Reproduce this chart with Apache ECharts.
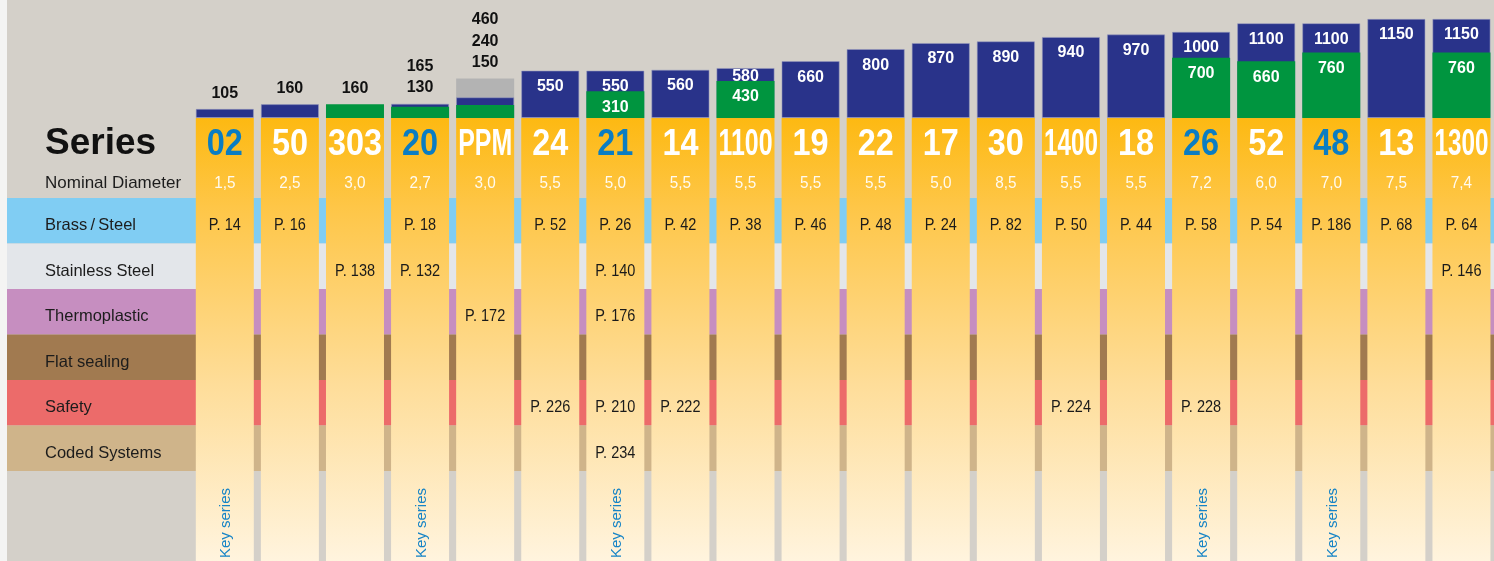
<!DOCTYPE html>
<html>
<head>
<meta charset="utf-8">
<script src="https://cdn.jsdelivr.net/npm/echarts@6/dist/echarts.min.js"></script>
<style>
  html, body { margin: 0; padding: 0; background: #d4d0c9; }
  #chart { width: 1494px; height: 561px; }
</style>
</head>
<body>
<div id="chart"></div>
<script>
// ---- data ----
const seriesNames = ['02', '50', '303', '20', 'PPM', '24', '21', '14', '1100', '19', '22', '17', '30', '1400', '18', '26', '52', '48', '13', '1300'];
const diameters = ['1,5', '2,5', '3,0', '2,7', '3,0', '5,5', '5,0', '5,5', '5,5', '5,5', '5,5', '5,0', '8,5', '5,5', '5,5', '7,2', '6,0', '7,0', '7,5', '7,4'];
const keySeries = ['02', '20', '21', '26', '48'];

const pressureBlue  = [105, 160, null, 165, 240, 550, 550, 560, 580, 660, 800, 870, 890, 940, 970, 1000, 1100, 1100, 1150, 1150];
const pressureGreen = [null, null, 160, 130, 150, null, 310, null, 430, null, null, null, null, null, null, 700, 660, 760, null, 760];
const pressureGray  = [null, null, null, null, 460, null, null, null, null, null, null, null, null, null, null, null, null, null, null, null];

const rowNames = ['Brass\u2009/\u2009Steel', 'Stainless Steel', 'Thermoplastic', 'Flat sealing', 'Safety', 'Coded Systems'];

const pagesBrassSteel    = ['P. 14', 'P. 16', null, 'P. 18', null, 'P. 52', 'P. 26', 'P. 42', 'P. 38', 'P. 46', 'P. 48', 'P. 24', 'P. 82', 'P. 50', 'P. 44', 'P. 58', 'P. 54', 'P. 186', 'P. 68', 'P. 64'];
const pagesStainless     = [null, null, 'P. 138', 'P. 132', null, null, 'P. 140', null, null, null, null, null, null, null, null, null, null, null, null, 'P. 146'];
const pagesThermoplastic = [null, null, null, null, 'P. 172', null, 'P. 176', null, null, null, null, null, null, null, null, null, null, null, null, null];
const pagesFlatSealing   = [null, null, null, null, null, null, null, null, null, null, null, null, null, null, null, null, null, null, null, null];
const pagesSafety        = [null, null, null, null, null, 'P. 226', 'P. 210', 'P. 222', null, null, null, null, null, 'P. 224', null, 'P. 228', null, null, null, null];
const pagesCoded         = [null, null, null, null, null, null, 'P. 234', null, null, null, null, null, null, null, null, null, null, null, null, null];

// ---- styling ----
const rowColors = ['#80cdf3', '#e3e6ea', '#c68ec0', '#a17a50', '#ec6b6a', '#cfb48a'];
const NAVY = '#29338a', GREEN = '#00953f', GRAY = '#b3b3b3', KEY_BLUE = '#0b7dc2';
const FONT = '"Liberation Sans", Arial, Helvetica, sans-serif';
const PRESSURE_MAX = 1370;      // value axis top of the bar strip
const BAR_STRIP_H = 118;        // pixel height of the bar strip

// column geometry (20 columns, one partly off the right edge)
const pitch = 65.47, colLeft = 196, colW = 58;
const gridLeft = colLeft - (pitch - colW) / 2;
const gridRight = 1494 - (gridLeft + pitch * seriesNames.length);

const measureCtx = document.createElement('canvas').getContext('2d');
function textWidth(t, font) { measureCtx.font = font; return measureCtx.measureText(t).width; }

// value labels above / inside the pressure bars
function colValues(i) {
  return [pressureGray[i], pressureBlue[i], pressureGreen[i]].filter(v => v != null);
}
function topKind(i) {
  const m = Math.max(...colValues(i));
  if (pressureGray[i] === m) return 'gray';
  if (pressureBlue[i] === m) return 'blue';
  return 'green';
}
function barItem(v, i, kind) {
  if (v == null) return '-';
  const vals = colValues(i);
  const max = Math.max(...vals);
  const small = max / PRESSURE_MAX * BAR_STRIP_H < 45;
  let label;
  if (small) {
    if (kind === topKind(i)) {
      const txt = vals.slice().sort((a, b) => b - a).join('\n');
      label = { show: true, position: 'top', distance: 5, color: '#111', fontWeight: 'bold',
                fontSize: 16, lineHeight: 21.5, fontFamily: FONT, formatter: txt };
    } else {
      label = { show: false };
    }
  } else {
    let dist = 8;
    if (kind === 'blue' && pressureGreen[i] != null &&
        (v - pressureGreen[i]) / PRESSURE_MAX * BAR_STRIP_H < 20) dist = 1;
    label = { show: true, position: 'insideTop', distance: dist, color: '#fff', fontWeight: 'bold',
              fontSize: 16, fontFamily: FONT, formatter: String(v) };
  }
  return { value: v, label };
}

// page reference entries (column, row, text)
const pageRows = [pagesBrassSteel, pagesStainless, pagesThermoplastic, pagesFlatSealing, pagesSafety, pagesCoded];
const pageEntries = [];
pageRows.forEach((row, r) => row.forEach((t, c) => { if (t) pageEntries.push({ c, r, t }); }));

const numberFont = 'bold 36px ' + FONT;
const diamFont = '17px ' + FONT;
const pageFont = '16.5px ' + FONT;

const chart = echarts.init(document.getElementById('chart'), null, { renderer: 'canvas' });

chart.setOption({
  backgroundColor: '#d4d0c9',
  animation: false,
  graphic: [
    { type: 'rect', left: 0, top: 0, shape: { width: 7, height: 561 }, style: { fill: '#f4f4f3' }, z: 0 },
    { type: 'text', x: 45, y: 144, z: 10,
      style: { text: 'Series', font: 'bold 37px ' + FONT, fill: '#111', align: 'left', verticalAlign: 'middle' } },
    { type: 'text', x: 45, y: 183, z: 10,
      style: { text: 'Nominal Diameter', font: '17px ' + FONT, fill: '#1c1c1c', align: 'left', verticalAlign: 'middle' } }
  ],
  grid: [
    { left: gridLeft, right: gridRight, top: 0, height: BAR_STRIP_H },            // pressure bars
    { left: gridLeft, right: gridRight, top: BAR_STRIP_H, bottom: 0 },            // series columns
    { left: 7, right: 0, top: 198, height: 273 },                                 // material rows
    { left: gridLeft, right: gridRight, top: 198, height: 273 }                   // page references
  ],
  xAxis: [
    { gridIndex: 0, type: 'category', data: seriesNames, show: false },
    { gridIndex: 1, type: 'category', data: seriesNames, show: false },
    { gridIndex: 2, type: 'value', min: 0, max: 1, show: false },
    { gridIndex: 3, type: 'category', data: seriesNames, show: false }
  ],
  yAxis: [
    { gridIndex: 0, type: 'value', min: 0, max: PRESSURE_MAX, show: false },
    { gridIndex: 1, type: 'value', min: 0, max: 1, show: false },
    { gridIndex: 2, type: 'category', data: rowNames, inverse: true, show: false },
    { gridIndex: 3, type: 'category', data: rowNames, inverse: true, show: false }
  ],
  series: [
    // material rows across the full width
    {
      type: 'bar', xAxisIndex: 2, yAxisIndex: 2, z: 1, barCategoryGap: 0, silent: true,
      data: rowNames.map((n, i) => ({ value: 1, itemStyle: { color: rowColors[i] } })),
      label: { show: true, position: 'insideLeft', distance: 38, offset: [0, 5],
               formatter: '{b}', fontSize: 16.5, color: '#1c1c1c', fontFamily: FONT }
    },
    // series columns with yellow gradient
    {
      type: 'bar', xAxisIndex: 1, yAxisIndex: 1, z: 3, barWidth: colW, silent: true,
      data: seriesNames.map(() => 1),
      itemStyle: {
        color: new echarts.graphic.LinearGradient(0, 0, 0, 1, [
          { offset: 0, color: '#fdb912' },
          { offset: 0.2, color: '#fec647' },
          { offset: 0.6, color: '#fedd99' },
          { offset: 1, color: '#fff4de' }
        ])
      }
    },
    // series numbers, nominal diameters, key-series marks
    {
      type: 'custom', xAxisIndex: 1, yAxisIndex: 1, z: 4, silent: true,
      data: seriesNames.map((s, i) => [i, 1]),
      encode: { x: 0, y: 1 },
      renderItem(params, api) {
        const i = params.dataIndex;
        const top = api.coord([i, 1]);
        const bottom = api.coord([i, 0]);
        const cx = top[0];
        const name = seriesNames[i];
        const isKey = keySeries.includes(name);
        const sx = Math.min(0.9, 54 / textWidth(name, numberFont));
        const children = [
          { type: 'text', x: cx, y: top[1] + 27, scaleX: sx,
            style: { text: name, font: numberFont, fill: isKey ? KEY_BLUE : '#ffffff', align: 'center', verticalAlign: 'middle' } },
          { type: 'text', x: cx, y: top[1] + 65, scaleX: 0.9,
            style: { text: diameters[i], font: diamFont, fill: 'rgba(255,255,255,0.92)', align: 'center', verticalAlign: 'middle' } }
        ];
        if (isKey) {
          children.push({ type: 'text', x: cx + 1.5, y: bottom[1] - 3, rotation: Math.PI / 2,
            style: { text: 'Key series', font: '15px ' + FONT, fill: '#1784c6', align: 'left', verticalAlign: 'middle' } });
        }
        return { type: 'group', children };
      }
    },
    // catalogue page references
    {
      type: 'custom', xAxisIndex: 3, yAxisIndex: 3, z: 5, silent: true,
      data: pageEntries.map(e => [e.c, e.r]),
      encode: { x: 0, y: 1 },
      renderItem(params, api) {
        const e = pageEntries[params.dataIndex];
        const p = api.coord([e.c, e.r]);
        return { type: 'text', x: p[0], y: p[1] + 5, scaleX: 0.88,
          style: { text: e.t, font: pageFont, fill: '#1a1a1a', align: 'center', verticalAlign: 'middle' } };
      }
    },
    // pressure bars (overlapping, tallest behind)
    {
      type: 'bar', xAxisIndex: 0, yAxisIndex: 0, z: 3, barWidth: colW, barGap: '-100%', silent: true,
      itemStyle: { color: GRAY },
      data: pressureGray.map((v, i) => barItem(v, i, 'gray'))
    },
    {
      type: 'bar', xAxisIndex: 0, yAxisIndex: 0, z: 3, barWidth: colW, barGap: '-100%', silent: true,
      itemStyle: { color: NAVY, borderColor: 'rgba(150,155,190,0.7)', borderWidth: 0.8 },
      data: pressureBlue.map((v, i) => barItem(v, i, 'blue'))
    },
    {
      type: 'bar', xAxisIndex: 0, yAxisIndex: 0, z: 3, barWidth: colW, barGap: '-100%', silent: true,
      itemStyle: { color: GREEN },
      data: pressureGreen.map((v, i) => barItem(v, i, 'green'))
    }
  ]
});
</script>
</body>
</html>
